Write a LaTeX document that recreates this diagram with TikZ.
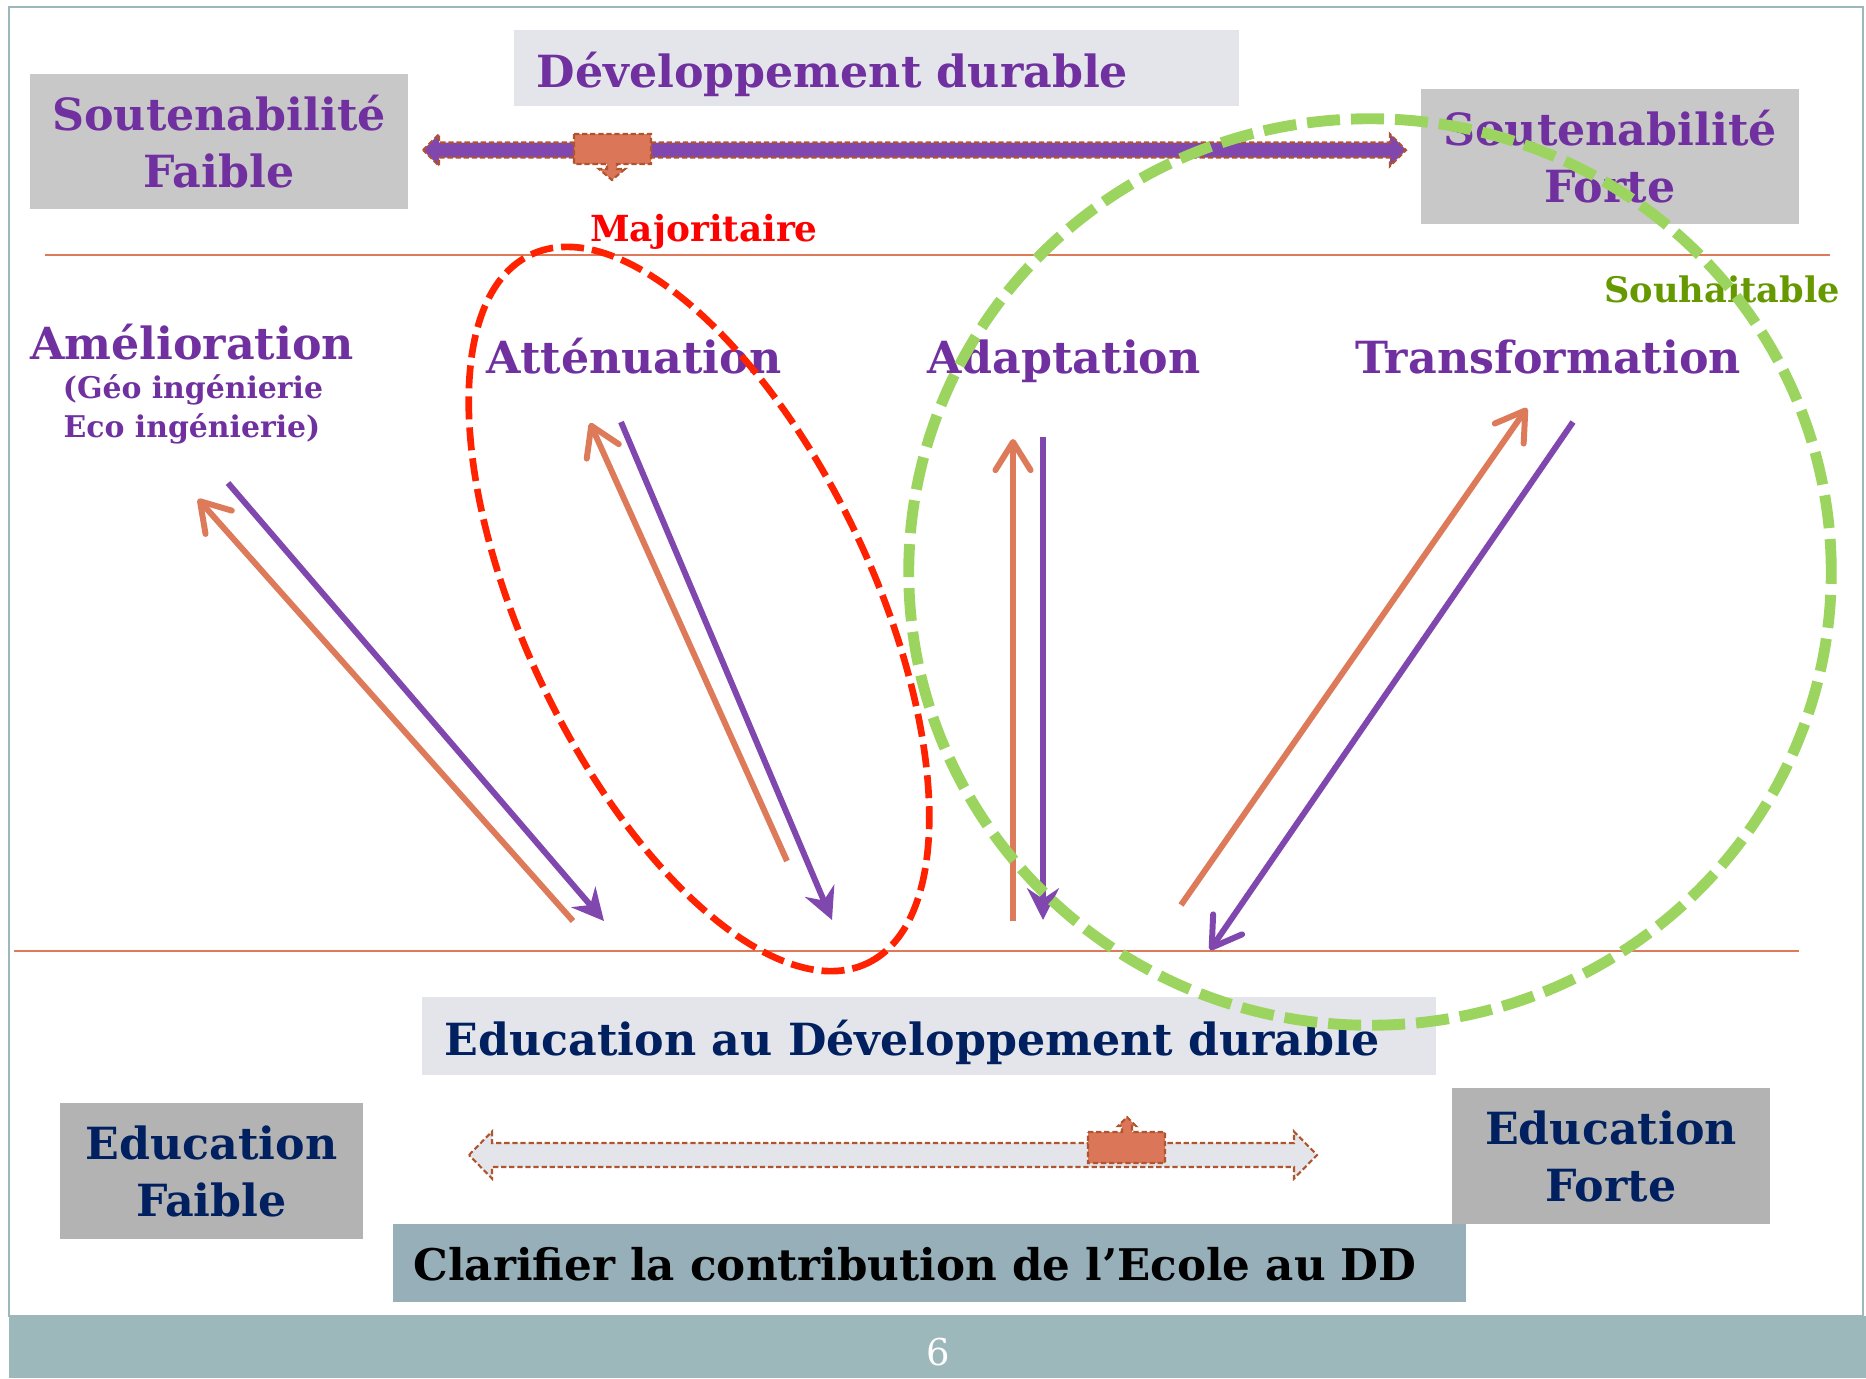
\documentclass[tikz,border=0pt]{standalone}
\usepackage{fontspec}
\setmainfont{DejaVu Serif}
\usetikzlibrary{arrows.meta}

\definecolor{purp}{HTML}{7030A0}
\definecolor{navy}{HTML}{002060}
\definecolor{arrpurp}{HTML}{8048AE}
\definecolor{arrorange}{HTML}{DD7A5A}
\definecolor{lightbox}{HTML}{E4E5EA}
\definecolor{midbox}{HTML}{C8C8C8}
\definecolor{darkbox}{HTML}{B3B3B3}
\definecolor{tealbox}{HTML}{97AFB9}
\definecolor{band}{HTML}{9CB8BB}
\definecolor{dashbrown}{HTML}{B0542F}
\definecolor{slidercol}{HTML}{DB7758}
\definecolor{redring}{HTML}{FF2200}
\definecolor{greenring}{HTML}{9BD45E}
\definecolor{greentext}{HTML}{669900}

\begin{document}
\begin{tikzpicture}[x=0.01cm, y=-0.01cm,
    panel/.style={fill=#1, inner sep=0pt},
    biglabel/.style={font=\bfseries\fontsize{12.6}{16.2}\selectfont, align=center, inner sep=0pt},
    smalllabel/.style={font=\bfseries\fontsize{8.5}{11}\selectfont, inner sep=0pt},
    midlabel/.style={font=\bfseries\fontsize{10.2}{12}\selectfont, inner sep=0pt},
    orangearrow/.style={draw=arrorange, line width=1.7pt, -{Straight Barb[length=8pt, width=10pt, round]}},
    purplearrow/.style={draw=arrpurp, line width=1.7pt, -{Stealth[length=9pt, width=9pt, inset=3pt]}},
    purplebarb/.style={draw=arrpurp, line width=1.7pt, -{Straight Barb[length=8pt, width=10pt, round]}},
    barshape/.style={draw=dashbrown, line width=0.6pt, dash pattern=on 1.5pt off 0.8pt}]

    \useasboundingbox (0,0) rectangle (1866,1378);

    % frame and footer
    \draw[band, line width=0.6pt] (9,7) rectangle (1863,1316);
    \fill[band] (9,1316) rectangle (1866,1378);
    \node[text=white, font=\fontsize{10.5}{12}\selectfont, anchor=base, inner sep=0pt] (page) at (938,1365) {6};

    % top part
    \node[panel=lightbox, minimum width=7.25cm, minimum height=0.76cm] (ddbox) at (876.5,68) {};
    \node[biglabel, text=purp, anchor=base west] (dd) at (536,87) {Développement durable};
    \node[panel=midbox, biglabel, text=purp, minimum width=3.78cm, minimum height=1.35cm] (sfaible) at (219,141.5) {Soutenabilité\\Faible};
    \node[panel=midbox, biglabel, text=purp, minimum width=3.78cm, minimum height=1.35cm] (sforte) at (1610,156.5) {Soutenabilité\\Forte};

    \draw[barshape, fill=arrpurp] (423,150) -- (439,134) -- (439,142.5) -- (1390,142.5) -- (1390,134) -- (1406,150)
        -- (1390,166) -- (1390,157.5) -- (439,157.5) -- (439,166) -- cycle;
    \draw[barshape, fill=slidercol] (574,134) -- (651,134) -- (651,164) -- (617,164) -- (617,169) -- (625,169) -- (612,180)
        -- (599,169) -- (607,169) -- (607,164) -- (574,164) -- cycle;

    \draw[arrorange, line width=0.8pt] (45,255) -- (1830,255);
    \draw[arrorange, line width=0.8pt] (14,951) -- (1799,951);

    % the four strategies
    \node[midlabel, text=red, anchor=base] (maj) at (704,241) {Majoritaire};
    \node[midlabel, text=greentext, anchor=base, font=\bfseries\fontsize{10}{12}\selectfont] (souh) at (1722,302) {Souhaitable};
    \node[biglabel, text=purp, anchor=base] (amel) at (192,359) {Amélioration};
    \node[smalllabel, text=purp, anchor=base] (geo) at (193,398) {(Géo ingénierie};
    \node[smalllabel, text=purp, anchor=base] (eco) at (192,437) {Eco ingénierie)};
    \node[biglabel, text=purp, anchor=base] (att) at (634,373) {Atténuation};
    \node[biglabel, text=purp, anchor=base] (adap) at (1064,373) {Adaptation};
    \node[biglabel, text=purp, anchor=base] (trans) at (1548,373) {Transformation};

    \coordinate (amelLow) at (573,921);  \coordinate (amelUp) at (198,499);
    \coordinate (amelTop) at (228,483);  \coordinate (amelEnd) at (604,921);
    \coordinate (attLow) at (787,861);   \coordinate (attUp) at (590,423);
    \coordinate (attTop) at (621,422);   \coordinate (attEnd) at (832,920);
    \coordinate (adapLow) at (1013,921); \coordinate (adapUp) at (1013,439);
    \coordinate (adapTop) at (1043,437); \coordinate (adapEnd) at (1043,920);
    \coordinate (transLow) at (1181,905); \coordinate (transUp) at (1527,408);
    \coordinate (transTop) at (1573,422); \coordinate (transEnd) at (1210,950);

    \draw[orangearrow] (amelLow) -- (amelUp);
    \draw[purplearrow] (amelTop) -- (amelEnd);
    \draw[orangearrow] (attLow) -- (attUp);
    \draw[purplearrow] (attTop) -- (attEnd);
    \draw[orangearrow] (adapLow) -- (adapUp);
    \draw[purplearrow] (adapTop) -- (adapEnd);
    \draw[orangearrow] (transLow) -- (transUp);
    \draw[purplebarb] (transTop) -- (transEnd);

    % bottom part
    \node[panel=lightbox, minimum width=10.14cm, minimum height=0.78cm] (edbox) at (929,1036) {};
    \node[biglabel, text=navy, anchor=base west] (ed) at (444,1055) {Education au Développement durable};
    \node[panel=darkbox, biglabel, text=navy, minimum width=3.03cm, minimum height=1.36cm] (efaible) at (211.5,1171) {Education\\Faible};
    \node[panel=darkbox, biglabel, text=navy, minimum width=3.18cm, minimum height=1.36cm] (eforte) at (1611,1156) {Education\\Forte};

    \draw[barshape, fill=lightbox] (469,1155) -- (492,1131.5) -- (492,1143) -- (1294,1143) -- (1294,1131.5) -- (1317,1155)
        -- (1294,1178.5) -- (1294,1167) -- (492,1167) -- (492,1178.5) -- cycle;
    \draw[barshape, fill=slidercol] (1088,1132) -- (1122,1132) -- (1122,1126) -- (1118,1126) -- (1127,1117) -- (1136,1126)
        -- (1132,1126) -- (1132,1132) -- (1165,1132) -- (1165,1163) -- (1088,1163) -- cycle;

    \node[panel=tealbox, minimum width=10.73cm, minimum height=0.78cm] (clbox) at (929.5,1263) {};
    \node[font=\bfseries\fontsize{12.4}{14}\selectfont, anchor=base west, inner sep=0pt] (cl) at (413,1280) {Clarifier la contribution de l’Ecole au DD};

    % rings
    \draw[redring, line width=1.9pt, dash pattern=on 0.23cm off 0.08cm, rotate around={-64.6:(699,609)}]
        (699,609) ellipse [x radius=3.92cm, y radius=1.74cm];
    \draw[greenring, line width=3.1pt, dash pattern=on 0.33cm off 0.11cm]
        (1370,572) ellipse [x radius=4.61cm, y radius=4.53cm];
\end{tikzpicture}
\end{document}
